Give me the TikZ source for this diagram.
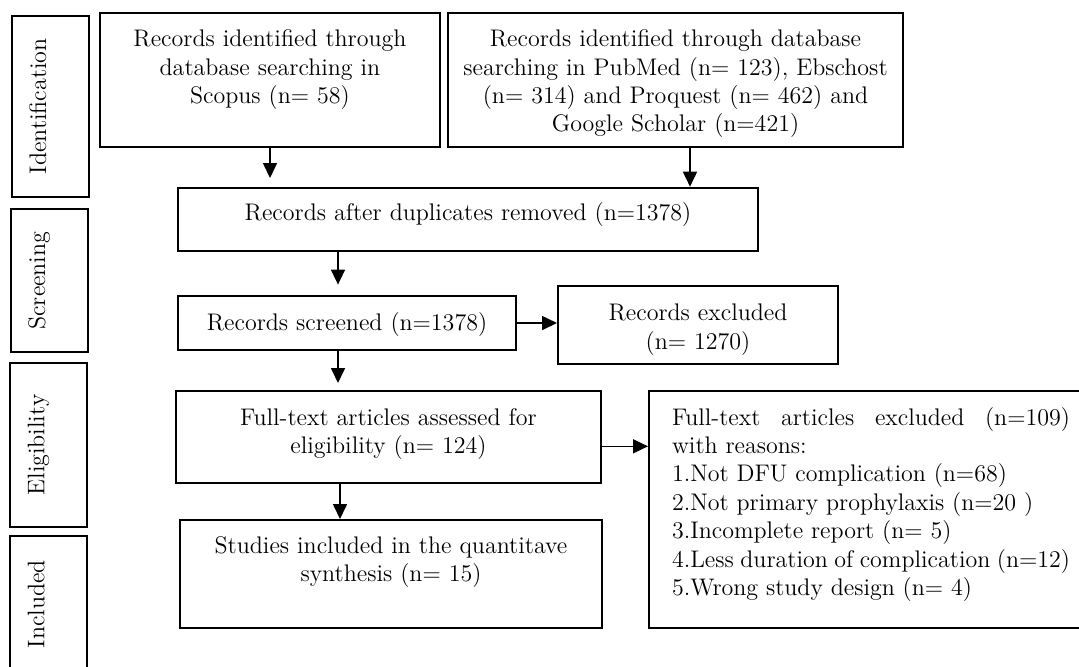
\documentclass[tikz,border=0pt]{standalone}
\usepackage{tikz}
\usetikzlibrary{arrows.meta}

\tikzset{
  caja/.style={draw, line width=1pt, align=center, inner xsep=0pt, inner ysep=0pt,
    font=\fontsize{12}{14.2}\selectfont},
  etapa/.style={draw, line width=1pt, rotate=90, inner sep=0pt, text height=17pt,
    text depth=21.25pt, font=\fontsize{12}{14.2}\selectfont},
  flecha/.style={line width=0.8pt, -{Triangle[length=7.5pt,width=7pt]}}
}

\begin{document}
\begin{tikzpicture}[x=0.5pt, y=-0.5pt]
    \useasboundingbox (0,0) rectangle (1079,666);
    % Etiquetas de las etapas a la izquierda
    \foreach \nombre/\xc/\yc/\alto/\texto in {ident/50.25/106.35/90.65pt/Identification,
        cribado/49.25/280.65/71.65pt/Screening, elegib/48.5/445/81.7pt/Eligibility,
        incluido/48.5/604/68.3pt/Included} {
        \node[etapa, minimum width=\alto] (\nombre) at (\xc,\yc) {\texto};
    }
    % Cajas de la fase de identificacion
    \node[caja, text width=170pt, text height=16.7pt, text depth=50.3pt] (scopus) at (270,80.3)
        {Records identified through\\ database searching in\\ Scopus (n= 58)};
    \node[caja, text width=227.5pt, text height=16.7pt, text depth=50.3pt] (bases) at (675.5,80.3)
        {Records identified through database\\ searching in PubMed (n= 123), Ebschost\\
         (n= 314) and Proquest (n= 462) and\\ Google Scholar (n=421)};
    % Cribado
    \node[caja, text width=290pt, text height=16.15pt, text depth=15.35pt] (duplicados) at (468,219.2)
        {Records after duplicates removed (n=1378)};
    \node[caja, text width=169pt, text height=17pt, text depth=10pt] (cribados) at (347,323)
        {Records screened (n=1378)};
    \node[caja, text width=140pt, text height=17.35pt, text depth=21.4pt] (excluidos) at (698,324.75)
        {Records excluded\\ (n= 1270)};
    % Elegibilidad e inclusion
    \node[caja, text width=212.5pt, text height=17pt, text depth=29pt] (completos) at (388.5,437)
        {Full-text articles assessed for\\ eligibility (n= 124)};
    \node[caja, text width=211pt, text height=16.65pt, text depth=37.2pt] (estudios) at (391,573.85)
        {Studies included in the quantitave\\ synthesis (n= 15)};
    \node[caja, align=justify, inner xsep=11.5pt, text width=199pt, text height=17pt,
        text depth=101.35pt] (razones) at (871,509.35)
        {Full-text articles excluded (n=109)\linebreak with reasons:\\
         1.Not DFU complication (n=68)\\ 2.Not primary prophylaxis (n=20 )\\
         3.Incomplete report (n= 5)\\ 4.Less duration of complication (n=12)\\
         5.Wrong study design (n= 4)};
    % Flechas
    \draw[flecha, shorten >=4.35pt] (scopus.south) -- (scopus.south |- duplicados.north);
    \draw[flecha] ([xshift=7.25pt]bases.south) -- ([xshift=7.25pt]bases.south |- duplicados.north);
    \draw[flecha, shorten >=5.2pt] ([xshift=-4.5pt]cribados.north |- duplicados.south) -- ([xshift=-4.5pt]cribados.north);
    \draw[flecha] (cribados.east) -- (cribados.east -| excluidos.west);
    \draw[flecha, shorten >=3.5pt] ([xshift=-4.5pt]cribados.south) -- ([xshift=-4.5pt]cribados.south |- completos.north);
    \draw[flecha] ([yshift=-4.65pt]completos.east) -- ([yshift=-4.65pt]completos.east -| razones.west);
    \draw[flecha] ([xshift=-24.25pt]completos.south) -- ([xshift=-24.25pt]completos.south |- estudios.north);
\end{tikzpicture}
\end{document}
